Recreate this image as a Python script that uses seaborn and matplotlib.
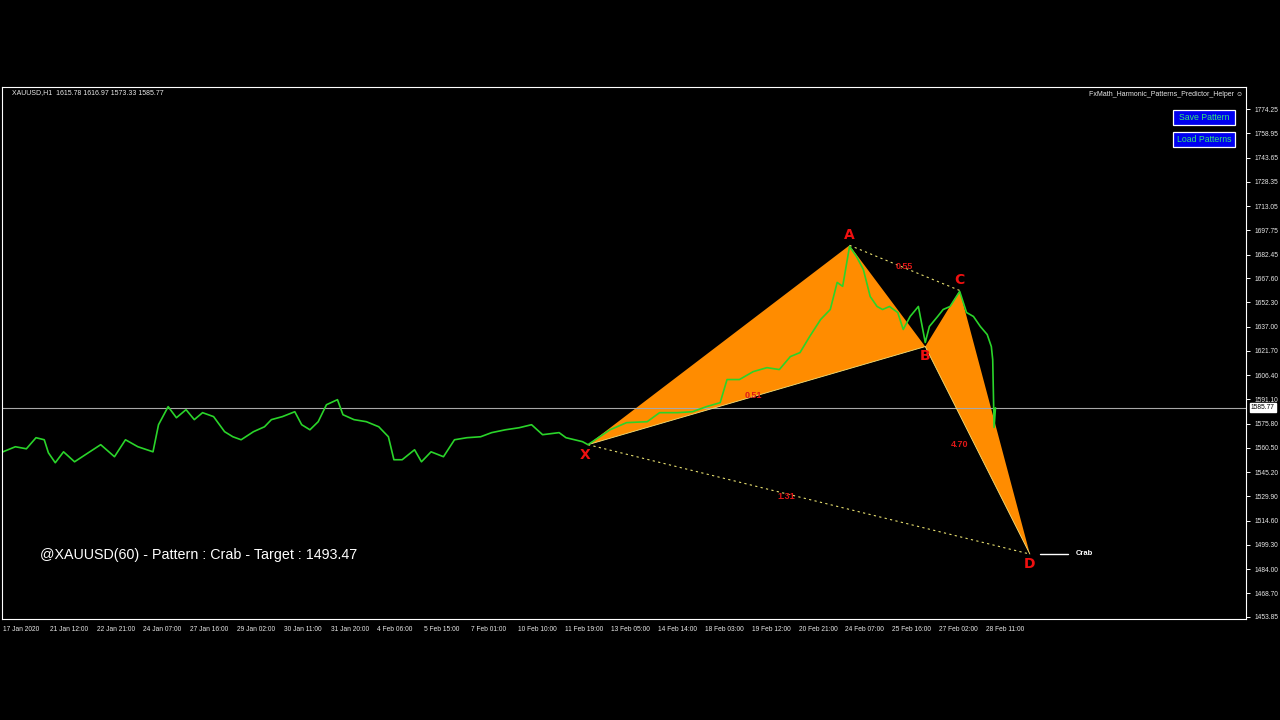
import matplotlib
matplotlib.use("Agg")
import matplotlib.pyplot as plt
from matplotlib.patches import Rectangle
import seaborn as sns

# XAUUSD H1 closes (bar index -> price)
BARS = [0, 9, 17, 24, 30, 33, 38, 44, 52, 62, 71, 81, 89, 98, 109, 113, 120, 126, 133, 139,
        145, 153, 161, 167, 173, 182, 190, 195, 203, 212, 217, 223, 229, 235, 243, 247, 255, 264,
        273, 280, 284, 290, 299, 304, 311, 320, 328, 337, 347, 355, 365, 375, 384, 392, 404, 409,
        421, 425, 441, 453, 468, 477, 490, 501, 511, 521, 526, 535, 545, 555, 564, 572, 579, 586,
        594, 601, 606, 610, 615, 620, 625, 630, 635, 639, 644, 650, 654, 659, 665, 670, 673, 679,
        683, 688, 695, 700, 705, 710, 715, 718, 719, 720, 721]
CLOSES = [1558.0, 1561.2, 1559.9, 1566.9, 1565.6, 1557.4, 1551.1, 1558.0, 1551.7, 1557.4,
          1562.5, 1554.9, 1565.6, 1561.2, 1558.0, 1575.1, 1586.5, 1579.5, 1584.6, 1578.3,
          1582.7, 1580.2, 1570.7, 1567.5, 1565.6, 1570.7, 1573.8, 1578.3, 1580.2, 1583.3,
          1575.1, 1571.9, 1577.0, 1587.7, 1590.9, 1581.4, 1578.3, 1577.0, 1573.8, 1567.5,
          1553.0, 1553.0, 1559.3, 1551.7, 1558.0, 1554.9, 1565.6, 1566.9, 1567.5, 1570.1,
          1571.9, 1573.2, 1575.1, 1568.8, 1570.1, 1566.9, 1564.4, 1562.5, 1571.9, 1576.4,
          1577.0, 1582.7, 1582.7, 1583.3, 1586.5, 1589.0, 1603.6, 1603.6, 1608.6, 1611.1,
          1609.9, 1618.1, 1620.6, 1630.7, 1641.5, 1647.8, 1664.9, 1662.4, 1687.6, 1681.3,
          1673.1, 1656.0, 1649.7, 1647.8, 1649.7, 1645.9, 1635.2, 1643.4, 1649.7, 1627.0,
          1637.1, 1643.4, 1647.8, 1649.7, 1659.2, 1645.9, 1643.4, 1637.1, 1632.0, 1624.4,
          1616.2, 1573.33, 1585.77]
LAST_PRICE = 1585.77

# harmonic pattern points
PT_NAMES = ["X", "A", "B", "C", "D"]
PT_BARS = [425, 615, 670, 695, 746]
PT_PRICES = [1562.5, 1688.3, 1624.4, 1659.8, 1493.47]
RATIOS = ["0.51", "0.55", "4.70", "1.31"]

Y_TICKS = [1774.25, 1758.95, 1743.65, 1728.35, 1713.05, 1697.75, 1682.45, 1667.60, 1652.30,
           1637.00, 1621.70, 1606.40, 1591.10, 1575.80, 1560.50, 1545.20, 1529.90, 1514.60,
           1499.30, 1484.00, 1468.70, 1453.85]
X_LABELS = ["17 Jan 2020", "21 Jan 12:00", "22 Jan 21:00", "24 Jan 07:00", "27 Jan 16:00",
            "29 Jan 02:00", "30 Jan 11:00", "31 Jan 20:00", "4 Feb 06:00", "5 Feb 15:00",
            "7 Feb 01:00", "10 Feb 10:00", "11 Feb 19:00", "13 Feb 05:00", "14 Feb 14:00",
            "18 Feb 03:00", "19 Feb 12:00", "20 Feb 21:00", "24 Feb 07:00", "25 Feb 16:00",
            "27 Feb 02:00", "28 Feb 11:00"]
X_STEP = 34

W, H = 1280, 720


def fx(px):
    return px / W


def fy(py):
    return 1 - py / H


sns.set_style("dark", {"axes.facecolor": "black", "figure.facecolor": "black"})
plt.rcParams["font.family"] = ["Liberation Sans", "DejaVu Sans"]

fig = plt.figure(figsize=(12.8, 7.2), dpi=100)
ax = fig.add_axes([fx(2), fy(619), fx(1246) - fx(2), fy(87) - fy(619)])
ax.set_facecolor("black")

orange = "#FF8C00"
x_, a_, b_, c_, d_ = list(zip(PT_BARS, PT_PRICES))
ax.fill([x_[0], a_[0], b_[0]], [x_[1], a_[1], b_[1]], color=orange, lw=0, zorder=1)
ax.fill([b_[0], c_[0], d_[0]], [b_[1], c_[1], d_[1]], color=orange, lw=0, zorder=1)
for p, q in [(x_, b_), (b_, d_)]:
    ax.plot([p[0], q[0]], [p[1], q[1]], color="#F4E27A", lw=0.6, zorder=1.5)
for p, q in [(a_, c_), (x_, d_)]:
    ax.plot([p[0], q[0]], [p[1], q[1]], color="#E8E070", lw=0.8, ls=(0, (2, 3)), zorder=1.5)

# current price line
ax.axhline(LAST_PRICE, color="#A8A8A8", lw=0.8, zorder=1.2)

sns.lineplot(x=BARS, y=CLOSES, ax=ax, color="#2AD42A", lw=1.2, zorder=2)

# point labels (offsets in points)
offs = {"X": (-2, -7.5), "A": (0, 7.5), "B": (0, -6.5), "C": (0, 7.5), "D": (0, -7.5)}
for name, bx, py in zip(PT_NAMES, PT_BARS, PT_PRICES):
    ax.annotate(name, (bx, py), xytext=offs[name], textcoords="offset points",
                ha="center", va="center", color="#F01010", fontsize=10, fontweight="bold",
                family="DejaVu Sans", zorder=4)

# ratio labels near the midpoints of the legs
ratio_pts = [(x_, b_), (a_, c_), (b_, d_), (x_, d_)]
ratio_offs = [(-2, 0), (0, 1), (-13, 4.5), (-16, 2)]
for txt, (p, q), off in zip(RATIOS, ratio_pts, ratio_offs):
    mx, my = (p[0] + q[0]) / 2, (p[1] + q[1]) / 2
    ax.annotate(txt, (mx, my), xytext=off, textcoords="offset points", color="#E01818",
                fontsize=6.5, fontweight="bold", ha="center", va="center", zorder=4)

# Crab target marker
ax.plot([753, 774], [PT_PRICES[4], PT_PRICES[4]], color="white", lw=1.0, zorder=3)
ax.text(779, PT_PRICES[4] + 0.5, "Crab", color="white", fontsize=5.5, fontweight="bold",
        ha="left", va="center", zorder=4)

ax.set_xlim(-0.7, 903)
ax.set_ylim(1452.5, 1788.2)

ax.yaxis.tick_right()
ax.set_yticks(Y_TICKS)
ax.set_yticklabels([f"{v:.2f}" for v in Y_TICKS])
xt = [i * X_STEP for i in range(len(X_LABELS))]
ax.set_xticks(xt)
ax.set_xticklabels(X_LABELS, ha="left")
ax.tick_params(axis="both", colors="white", labelcolor="#E8E8E8", labelsize=4.8,
               length=3, width=0.7, direction="out", pad=2)
ax.tick_params(axis="y", pad=3)
ax.grid(False)
ax.set_xlabel("")
ax.set_ylabel("")
for s in ax.spines.values():
    s.set_visible(True)
    s.set_color("white")
    s.set_linewidth(0.8)

# price tag on the right scale
ax.annotate(f"{LAST_PRICE:.2f}", xy=(1.004, LAST_PRICE), xycoords=("axes fraction", "data"),
            ha="left", va="center", fontsize=4.8, color="black",
            bbox=dict(boxstyle="square,pad=0.15", fc="white", ec="white"), annotation_clip=False)

# header texts
fig.text(fx(12), fy(93), "XAUUSD,H1  1615.78 1616.97 1573.33 1585.77", color="#E8E8E8",
         fontsize=5, ha="left", va="center")
fig.text(fx(1243), fy(94), "FxMath_Harmonic_Patterns_Predictor_Helper \u263A", color="#E8E8E8",
         fontsize=5, ha="right", va="center", family=["Liberation Sans", "DejaVu Sans"])

# buttons
for label, top in [("Save Pattern", 110), ("Load Patterns", 132)]:
    fig.patches.append(Rectangle((fx(1173), fy(top + 15)), fx(62), 15 / H,
                                 transform=fig.transFigure, fc="#0000F0", ec="white", lw=0.9))
    fig.text(fx(1204), fy(top + 7.5), label, color="#33E67A", fontsize=6.3, ha="center", va="center")

fig.text(fx(40), fy(555), "@XAUUSD(60) - Pattern : Crab - Target : 1493.47", color="white",
         fontsize=10.3, ha="left", va="center", family="Liberation Sans")

fig.savefig("out.png", dpi=100, facecolor="black")
